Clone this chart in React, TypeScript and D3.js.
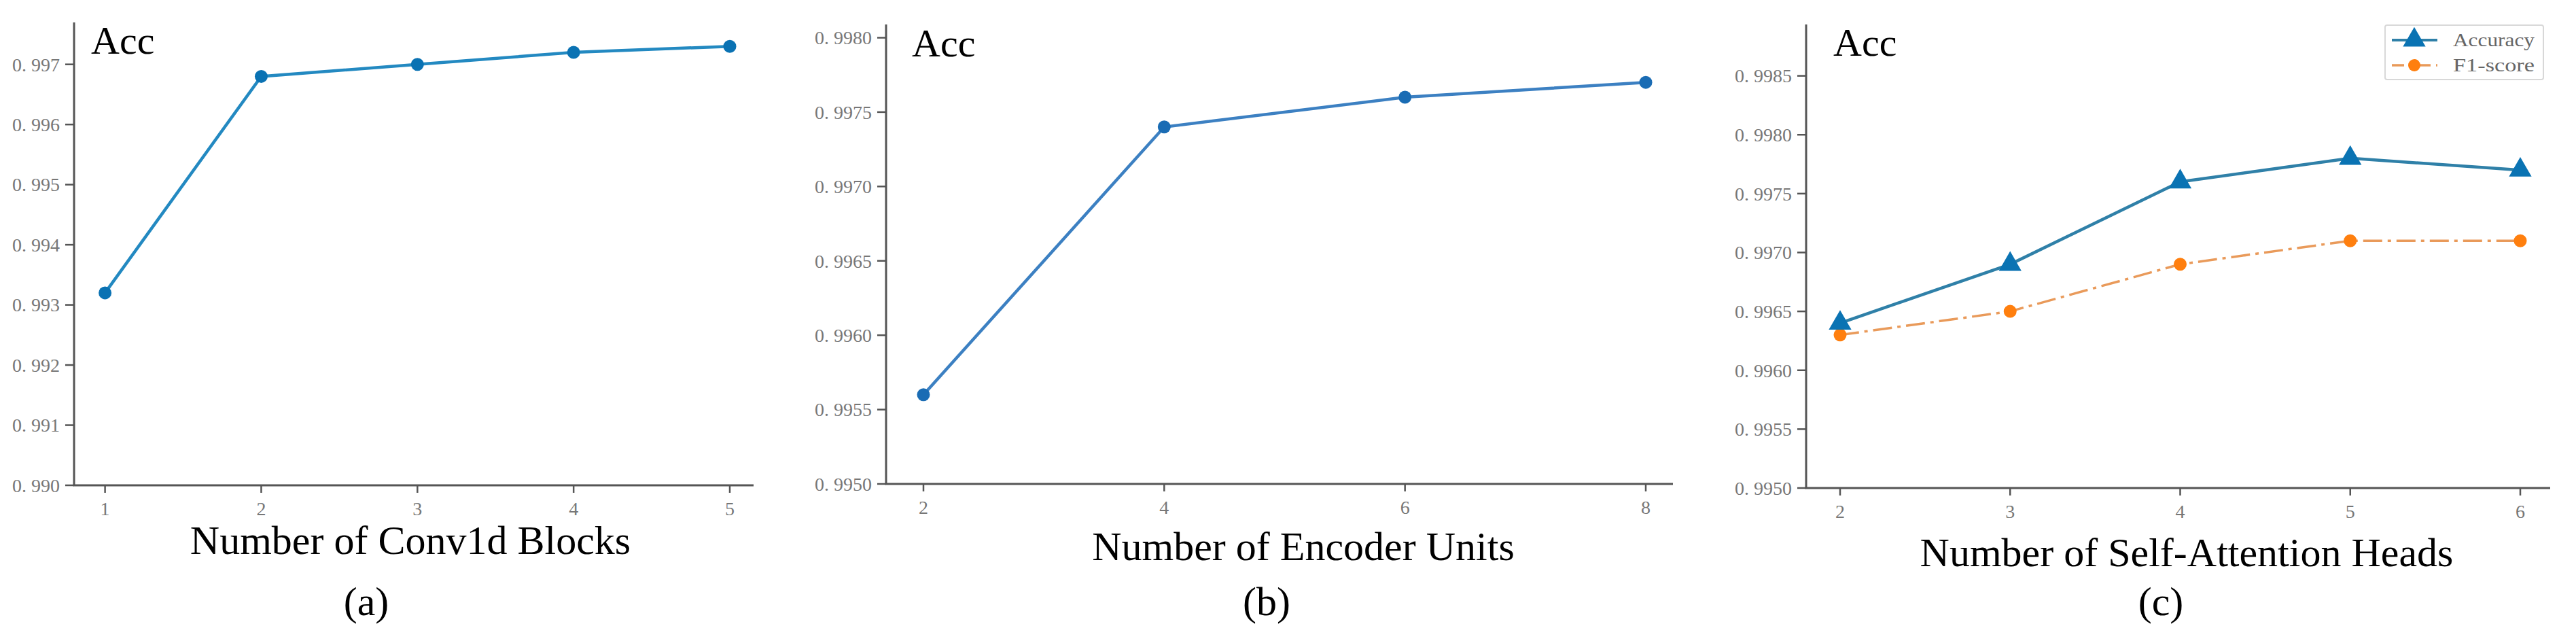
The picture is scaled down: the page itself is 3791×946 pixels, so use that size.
import React from "react";
import * as d3 from "d3";

// ---------- data ----------
const convBlocks = [1, 2, 3, 4, 5];
const convAcc = [0.9932, 0.9968, 0.997, 0.9972, 0.9973];
const convYTicks = [0.99, 0.991, 0.992, 0.993, 0.994, 0.995, 0.996, 0.997];

const encoderUnits = [2, 4, 6, 8];
const encoderAcc = [0.9956, 0.9974, 0.9976, 0.9977];
const encoderYTicks = [0.995, 0.9955, 0.996, 0.9965, 0.997, 0.9975, 0.998];

const heads = [2, 3, 4, 5, 6];
const headsAcc = [0.9964, 0.9969, 0.9976, 0.9978, 0.9977];
const headsF1 = [0.9963, 0.9965, 0.9969, 0.9971, 0.9971];
const headsYTicks = [0.995, 0.9955, 0.996, 0.9965, 0.997, 0.9975, 0.998, 0.9985];

const legendLabels = ["Accuracy", "F1-score"];
const xLabels = ["Number of Conv1d Blocks", "Number of Encoder Units", "Number of Self-Attention Heads"];
const captions = ["(a)", "(b)", "(c)"];

const SERIF = "'Liberation Serif', 'Times New Roman', serif";
const AXIS = "#555";
const TICKTXT = "#777";

const fmt = (digits: number) => (v: number) => {
  const s = v.toFixed(digits);
  return s.replace(".", ". ");
};

type Series = {
  values: number[];
  stroke: string;
  marker: string;
  kind: "circle" | "triangle";
  dash?: string;
  width: number;
};

type PanelProps = {
  xs: number[];
  series: Series[];
  xScale: d3.ScaleLinear<number, number>;
  yScale: d3.ScaleLinear<number, number>;
  yTicks: number[];
  yFmt: (v: number) => string;
  left: number;
  top: number;
  bottom: number;
  right: number;
  xLabel: string;
  xLabelX: number;
  xLabelY: number;
  caption: string;
  captionX: number;
  accX: number;
  accY: number;
};

function Panel(p: PanelProps) {
  const tri = d3.symbol().type(d3.symbolTriangle).size(480)() as string;
  return (
    <g>
      {p.series.map((s, si) => {
        const line = d3
          .line<number>()
          .x((_, i) => p.xScale(p.xs[i]))
          .y((d) => p.yScale(d));
        return (
          <g key={si}>
            <path d={line(s.values) as string} fill="none" stroke={s.stroke} strokeWidth={s.width} strokeDasharray={s.dash} />
            {s.values.map((v, i) =>
              s.kind === "circle" ? (
                <circle key={i} cx={p.xScale(p.xs[i])} cy={p.yScale(v)} r={9.5} fill={s.marker} />
              ) : (
                <path key={i} d={tri} transform={`translate(${p.xScale(p.xs[i])},${p.yScale(v)})`} fill={s.marker} />
              )
            )}
          </g>
        );
      })}
      {/* spines */}
      <line x1={p.left} x2={p.left} y1={p.top} y2={p.bottom} stroke={AXIS} strokeWidth={3} />
      <line x1={p.left - 1.5} x2={p.right} y1={p.bottom} y2={p.bottom} stroke={AXIS} strokeWidth={3} />
      {/* y ticks */}
      {p.yTicks.map((t, i) => (
        <g key={i}>
          <line x1={p.left - 13} x2={p.left} y1={p.yScale(t)} y2={p.yScale(t)} stroke={AXIS} strokeWidth={2.5} />
          <text x={p.left - 21} y={p.yScale(t)} dy="0.35em" textAnchor="end" fontFamily={SERIF} fontSize={28} fill={TICKTXT}>
            {p.yFmt(t)}
          </text>
        </g>
      ))}
      {/* x ticks */}
      {p.xs.map((t, i) => (
        <g key={i}>
          <line x1={p.xScale(t)} x2={p.xScale(t)} y1={p.bottom} y2={p.bottom + 11} stroke={AXIS} strokeWidth={2.5} />
          <text x={p.xScale(t)} y={p.bottom + 44} textAnchor="middle" fontFamily={SERIF} fontSize={28} fill={TICKTXT}>
            {t}
          </text>
        </g>
      ))}
      <text x={p.accX} y={p.accY} fontFamily={SERIF} fontSize={58} fill="#000">
        Acc
      </text>
      <text x={p.xLabelX} y={p.xLabelY} textAnchor="middle" fontFamily={SERIF} fontSize={60} fill="#000">
        {p.xLabel}
      </text>
      <text x={p.captionX} y={905} textAnchor="middle" fontFamily={SERIF} fontSize={60} fill="#000">
        {p.caption}
      </text>
    </g>
  );
}

export default function App() {
  const xA = d3.scaleLinear().domain([1, 5]).range([154.6, 1074]);
  const yA = d3.scaleLinear().domain([0.99, 0.997]).range([714, 94.7]);
  const xB = d3.scaleLinear().domain([2, 8]).range([1359, 2422]);
  const yB = d3.scaleLinear().domain([0.995, 0.998]).range([712, 55.5]);
  const xC = d3.scaleLinear().domain([2, 6]).range([2708, 3709]);
  const yC = d3.scaleLinear().domain([0.995, 0.9985]).range([718, 111.6]);
  const tri = d3.symbol().type(d3.symbolTriangle).size(480)() as string;

  return (
    <svg width={3791} height={946} style={{ position: "absolute", left: 0, top: 0, background: "#fff" }}>
      <rect width={3791} height={946} fill="#fff" />
      <Panel
        xs={convBlocks}
        series={[{ values: convAcc, stroke: "#2389c1", marker: "#0a72b3", kind: "circle", width: 4.5 }]}
        xScale={xA}
        yScale={yA}
        yTicks={convYTicks}
        yFmt={fmt(3)}
        left={109}
        top={33}
        bottom={714}
        right={1109}
        xLabel={xLabels[0]}
        xLabelX={604}
        xLabelY={815}
        caption={captions[0]}
        captionX={539}
        accX={134}
        accY={79}
      />
      <Panel
        xs={encoderUnits}
        series={[{ values: encoderAcc, stroke: "#3c80c2", marker: "#1a6cb4", kind: "circle", width: 4.5 }]}
        xScale={xB}
        yScale={yB}
        yTicks={encoderYTicks}
        yFmt={fmt(4)}
        left={1304}
        top={36}
        bottom={712}
        right={2462}
        xLabel={xLabels[1]}
        xLabelX={1918}
        xLabelY={824}
        caption={captions[1]}
        captionX={1864}
        accX={1342}
        accY={83}
      />
      <Panel
        xs={heads}
        series={[
          { values: headsF1, stroke: "#e99a5a", marker: "#ff7f0e", kind: "circle", dash: "28,8,5,8", width: 3.5 },
          { values: headsAcc, stroke: "#2f80a8", marker: "#0a73b3", kind: "triangle", width: 4.5 },
        ]}
        xScale={xC}
        yScale={yC}
        yTicks={headsYTicks}
        yFmt={fmt(4)}
        left={2658}
        top={36}
        bottom={718}
        right={3753}
        xLabel={xLabels[2]}
        xLabelX={3218}
        xLabelY={833}
        caption={captions[2]}
        captionX={3180}
        accX={2698}
        accY={82}
      />
      {/* legend */}
      <g>
        <rect x={3510} y={37} width={233} height={80} rx={3} fill="#fff" stroke="#d8d8d8" strokeWidth={2} />
        <line x1={3520} x2={3587} y1={59} y2={59} stroke="#2f80a8" strokeWidth={4} />
        <path d={tri} transform="translate(3553,59)" fill="#0a73b3" />
        <text x={3610} y={59} dy="0.35em" fontFamily={SERIF} fontSize={27} fill="#666" textLength={120} lengthAdjust="spacingAndGlyphs">
          {legendLabels[0]}
        </text>
        <line x1={3520} x2={3587} y1={96} y2={96} stroke="#e99a5a" strokeWidth={3.5} strokeDasharray="18,8,5,8" />
        <circle cx={3553} cy={96} r={9} fill="#ff7f0e" />
        <text x={3610} y={96} dy="0.35em" fontFamily={SERIF} fontSize={27} fill="#666" textLength={120} lengthAdjust="spacingAndGlyphs">
          {legendLabels[1]}
        </text>
      </g>
    </svg>
  );
}
